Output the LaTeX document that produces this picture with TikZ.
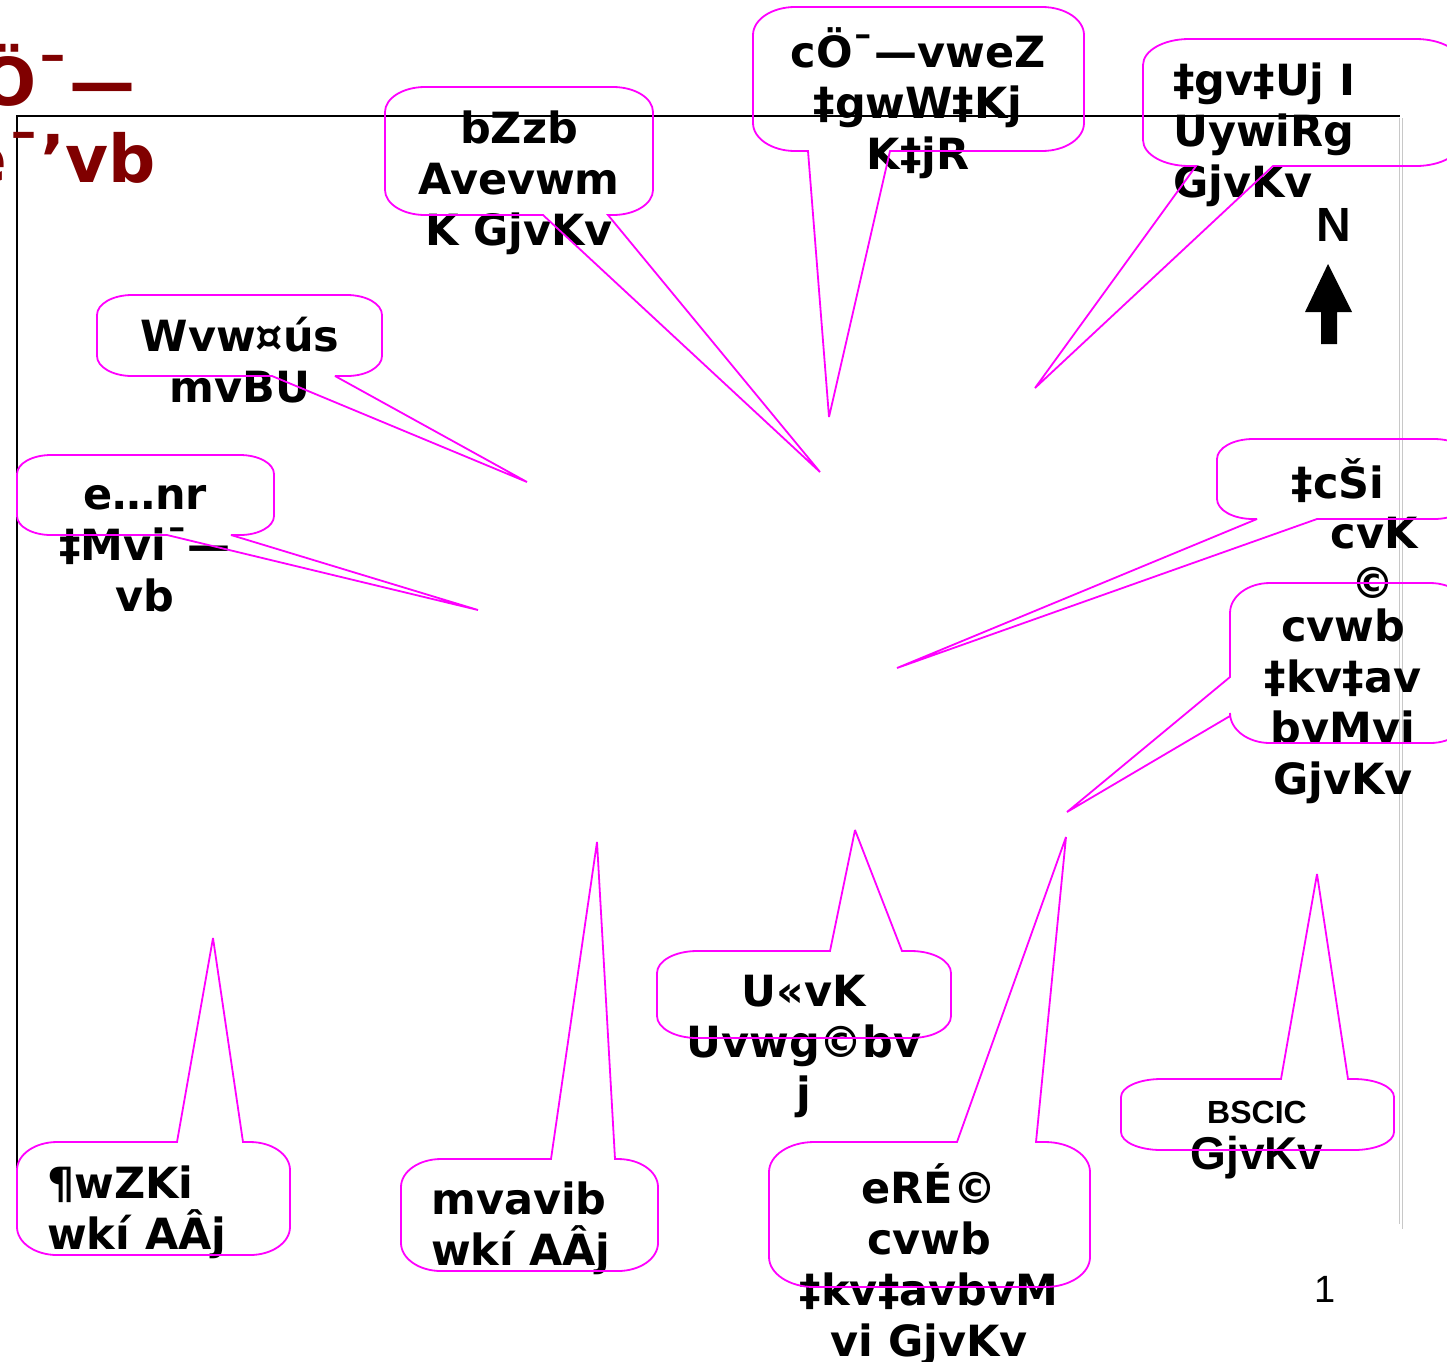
\documentclass[tikz,border=0pt]{standalone}
\usepackage{fontspec}
\setmainfont{DejaVu Sans}
\newfontfamily\libfont{Liberation Sans}
\definecolor{mag}{HTML}{FF00FF}
\definecolor{ttlred}{HTML}{800000}
\definecolor{framegray}{HTML}{C8C8C8}
% bubble with pointer on bottom edge: x1 y1 x2 y2 rx ry base1 base2 tip
\newcommand\CalloutBottom[9]{%
\draw[bubble] (#1+#5,#2) -- (#3-#5,#2)
 .. controls (#3-0.4477*#5,#2) and (#3,#2+0.4477*#6) .. (#3,#2+#6)
 -- (#3,#4-#6)
 .. controls (#3,#4-0.4477*#6) and (#3-0.4477*#5,#4) .. (#3-#5,#4)
 -- (#8,#4) -- (#9) -- (#7,#4) -- (#1+#5,#4)
 .. controls (#1+0.4477*#5,#4) and (#1,#4-0.4477*#6) .. (#1,#4-#6)
 -- (#1,#2+#6)
 .. controls (#1,#2+0.4477*#6) and (#1+0.4477*#5,#2) .. (#1+#5,#2) -- cycle;}
% bubble with pointer on top edge
\newcommand\CalloutTop[9]{%
\draw[bubble] (#1+#5,#2) -- (#7,#2) -- (#9) -- (#8,#2) -- (#3-#5,#2)
 .. controls (#3-0.4477*#5,#2) and (#3,#2+0.4477*#6) .. (#3,#2+#6)
 -- (#3,#4-#6)
 .. controls (#3,#4-0.4477*#6) and (#3-0.4477*#5,#4) .. (#3-#5,#4)
 -- (#1+#5,#4)
 .. controls (#1+0.4477*#5,#4) and (#1,#4-0.4477*#6) .. (#1,#4-#6)
 -- (#1,#2+#6)
 .. controls (#1,#2+0.4477*#6) and (#1+0.4477*#5,#2) .. (#1+#5,#2) -- cycle;}
% bubble with pointer on left edge (base1 < base2 in screen y)
\newcommand\CalloutLeft[9]{%
\draw[bubble] (#1+#5,#2) -- (#3-#5,#2)
 .. controls (#3-0.4477*#5,#2) and (#3,#2+0.4477*#6) .. (#3,#2+#6)
 -- (#3,#4-#6)
 .. controls (#3,#4-0.4477*#6) and (#3-0.4477*#5,#4) .. (#3-#5,#4)
 -- (#1+#5,#4)
 .. controls (#1+0.4477*#5,#4) and (#1,#4-0.4477*#6) .. (#1,#4-#6)
 -- (#1,#8) -- (#9) -- (#1,#7) -- (#1,#2+#6)
 .. controls (#1,#2+0.4477*#6) and (#1+0.4477*#5,#2) .. (#1+#5,#2) -- cycle;}
\tikzset{
  bubble/.style={draw=mag, line width=1.8pt, line join=miter, miter limit=3},
  btext/.style={font=\bfseries\fontsize{43}{51}\selectfont, inner sep=0pt, align=center},
  btextl/.style={font=\bfseries\fontsize{43}{51}\selectfont, inner sep=0pt, align=left},
  titletext/.style={font=\bfseries\fontsize{66}{79}\selectfont, text=ttlred, inner sep=0pt},
  frameline/.style={draw=black, line width=1.2pt},
  grayline/.style={draw=framegray, line width=1.3pt},
}
\begin{document}
\begin{tikzpicture}[x=1pt,y=-1pt]
\useasboundingbox (0,0) rectangle (1447,1361);
\clip (0,0) rectangle (1447,1361);
\fill[white] (0,0) rectangle (1447,1361);

% slide frame
\draw[frameline] (17,1228) -- (17,116) -- (1400,116);
\draw[grayline] (1399.5,118) -- (1399.5,1224);
\draw[grayline] (1402.5,118) -- (1402.5,1229);

% title (cut off at the left edge)
\node[titletext, anchor=base east] (title1) at (136,105) {cÖ¯—};
\node[titletext, anchor=base east] (title2) at (156,182) {e¯’vb};

% texts
\node[btext] (t1) at (519,183) {bZzb\\Avevwm\\K GjvKv};
\node[btext] (t2) at (918,103) {cÖ¯—vweZ\\‡gwW‡Kj\\K‡jR};
\node[btextl, anchor=west] (t3) at (1173,135) {‡gv‡Uj I\\UywiRg\\GjvKv};
\node[btext] (t4) at (240,360) {Wvw¤ús\\mvBU};
\node[btext] (t5) at (145,549) {e…nr\\‡Mvi¯—\\vb};
\node[btext] (t6a) at (1338,481) {‡cŠi};
\node[btext] (t6b) at (1374,533) {cvK};
\node[btext] (t6c) at (1373,583) {©};
\node[btext] (t7) at (1343,706) {cvwb\\‡kv‡av\\bvMvi\\GjvKv};
\node[btext] (t8) at (804,1046) {U«vK\\Uvwg©bv\\j};
\node[btext] (t9) at (929,1265) {eRÉ©\\cvwb\\‡kv‡avbvM\\vi GjvKv};
\node[font=\libfont\bfseries\fontsize{32}{38}\selectfont, inner sep=0pt] (t10a) at (1257,1112) {BSCIC};
\node[font=\libfont\bfseries\fontsize{46}{52}\selectfont, inner sep=0pt] (t10b) at (1257,1158) {GjvKv};
\node[btextl, anchor=west] (t11) at (47,1212) {¶wZKi\\wkí AÂj};
\node[btextl, anchor=west] (t12) at (431,1228) {mvavib\\wkí AÂj};

% north sign
\node[font=\libfont\bfseries\fontsize{48}{56}\selectfont, inner sep=0pt] (north) at (1334,225) {N};
\fill[black] (1328,264) -- (1352,312) -- (1337,312) -- (1337,344) -- (1321,344) -- (1321,312) -- (1305,312) -- cycle;

% pointer tips
\coordinate (p1) at (820,472);
\coordinate (p2) at (829,417);
\coordinate (p3) at (1035,388);
\coordinate (p4) at (527,482);
\coordinate (p5) at (478,610);
\coordinate (p6) at (897,668);
\coordinate (p7) at (1067,812);
\coordinate (p8) at (855,830);
\coordinate (p9) at (1066,837);
\coordinate (p10) at (1317,874);
\coordinate (p11) at (213,938);
\coordinate (p12) at (597,842);

% callouts
\CalloutBottom{385}{87}{653}{215}{40}{25}{543}{608}{p1}
\CalloutBottom{753}{7}{1084}{151}{42}{28}{808}{890}{p2}
\CalloutBottom{1143}{39}{1462}{166}{46}{26}{1196}{1273}{p3}
\CalloutBottom{97}{295}{382}{376}{35}{20}{272}{335}{p4}
\CalloutBottom{17}{455}{274}{535}{34}{19}{167}{231}{p5}
\CalloutBottom{1217}{439}{1470}{519}{36}{20}{1257}{1317}{p6}
\CalloutLeft{1230}{583}{1470}{743}{40}{30}{677}{716}{p7}
\CalloutTop{657}{951}{951}{1038}{40}{22}{830}{902}{p8}
\CalloutTop{769}{1142}{1090}{1287}{45}{30}{957}{1036}{p9}
\CalloutTop{1121}{1079}{1394}{1150}{40}{18}{1281}{1348}{p10}
\CalloutTop{17}{1142}{290}{1255}{40}{28}{177}{243}{p11}
\CalloutTop{401}{1159}{658}{1271}{40}{28}{551}{615}{p12}

% page number
\node[font=\libfont\fontsize{38}{44}\selectfont, inner sep=0pt] (pagenum) at (1325,1289) {1};
\end{tikzpicture}
\end{document}
